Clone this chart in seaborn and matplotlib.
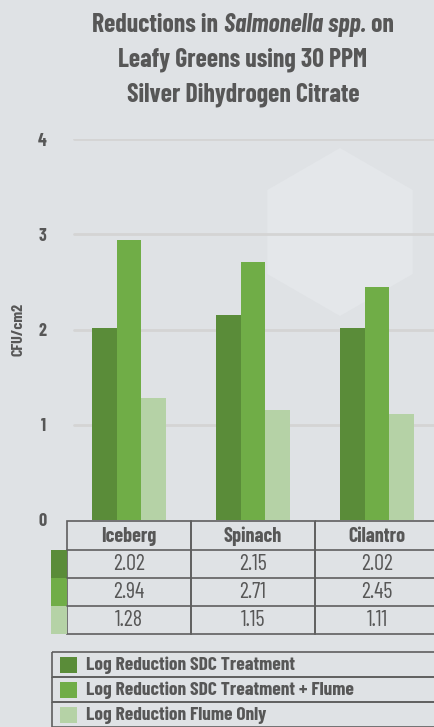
import pandas as pd
import seaborn as sns
import matplotlib.pyplot as plt
from matplotlib.patches import Rectangle, RegularPolygon

greens = ["Iceberg", "Spinach", "Cilantro"]
series = ["Log Reduction SDC Treatment",
          "Log Reduction SDC Treatment + Flume",
          "Log Reduction Flume Only"]
sdc = [2.02, 2.15, 2.02]
sdc_flume = [2.94, 2.71, 2.45]
flume_only = [1.28, 1.15, 1.11]
yticks = [0, 1, 2, 3, 4]

colors = ["#5a8c39", "#70ad47", "#b5d2a6"]
bg = "#dfe2e5"
txt = "#575757"
W, H = 434, 727

sns.set_theme(style="white")
plt.rcParams["font.family"] = ["Barlow Condensed", "DejaVu Sans"]

rows = []
for s, vals in zip(series, [sdc, sdc_flume, flume_only]):
    for g, v in zip(greens, vals):
        rows.append({"green": g, "series": s, "value": v})
df = pd.DataFrame(rows)

fig = plt.figure(figsize=(W / 100, H / 100), dpi=100, facecolor=bg)

# pixel overlay for background decoration, table and legend
over = fig.add_axes([0, 0, 1, 1], zorder=0)
over.set_xlim(0, W)
over.set_ylim(H, 0)
over.axis("off")
over.add_patch(RegularPolygon((340, 232), 6, radius=84, orientation=0,
                              facecolor="#e4e7ea", edgecolor="none"))

# main bar axes: y=0 at 520px, y=4 at 139px, categories 124px wide from x=67
left, col_w = 67, 124
ax = fig.add_axes([left / W, (H - 520) / H, 3 * col_w / W, (520 - 139) / H], zorder=1)
ax.patch.set_alpha(0)
sns.barplot(data=df, x="green", y="value", hue="series", palette=colors,
            width=0.6, gap=0, ax=ax, legend=False, saturation=1, linewidth=0)
ax.set_xlim(-0.5, 2.5)
ax.set_ylim(0, 4)
ax.set_yticks(yticks)
ax.set_yticklabels([str(t) for t in yticks], fontsize=13, fontweight="bold", color=txt)
ax.tick_params(axis="y", length=0, pad=15)
ax.set_xticks([])
ax.set_xlabel("")
ax.set_ylabel("CFU/cm2", fontsize=11.5, fontweight="bold", color=txt)
ax.yaxis.set_label_coords((25 - left) / (3 * col_w), 0.5)
for sp in ax.spines.values():
    sp.set_visible(False)
for t in yticks[1:]:
    ax.axhline(t, xmin=0.02, xmax=1, color="#d4d4d4", lw=2, zorder=0)

# title with italic part
renderer = fig.canvas.get_renderer()
tkw = dict(fontsize=18.5, fontweight="bold", color=txt, va="center")
parts = [("Reductions in ", "normal"), ("Salmonella spp.", "italic"), (" on", "normal")]
widths = []
objs = []
for s, style in parts:
    t = over.text(0, 25, s, style=style, **tkw)
    widths.append(t.get_window_extent(renderer).width)
    objs.append(t)
x = 243 - sum(widths) / 2
for t, w in zip(objs, widths):
    t.set_x(x)
    x += w
over.text(243, 60, "Leafy Greens using 30 PPM", ha="center", **tkw)
over.text(243, 95, "Silver Dihydrogen Citrate", ha="center", **tkw)

# data table
edge = "#5f5f5f"
row_tops = [521, 550, 578, 606, 634]
for i, g in enumerate(greens):
    x0 = left + i * col_w
    over.add_patch(Rectangle((x0, row_tops[0]), col_w, row_tops[-1] - row_tops[0],
                             facecolor="none", edgecolor=edge, lw=1.2))
    over.text(x0 + col_w / 2, (row_tops[0] + row_tops[1]) / 2 + 1, g, ha="center",
              va="center", fontsize=14.5, fontweight="bold", color=txt)
    for r, vals in enumerate([sdc, sdc_flume, flume_only]):
        y0, y1 = row_tops[r + 1], row_tops[r + 2]
        over.plot([x0, x0 + col_w], [y0, y0], color=edge, lw=1.2)
        over.text(x0 + col_w / 2, (y0 + y1) / 2 + 1, f"{vals[i]:.2f}", ha="center",
                  va="center", fontsize=16, fontweight="normal", color=txt)
for r, c in enumerate(colors):
    over.add_patch(Rectangle((51, row_tops[r + 1]), 16, row_tops[r + 2] - row_tops[r + 1],
                             facecolor=c, edgecolor="none"))

# legend box
leg_tops = [652, 677, 702, 727]
for r, (s, c) in enumerate(zip(series, colors)):
    y0 = leg_tops[r]
    over.add_patch(Rectangle((51.5, y0), W, 25, facecolor="none", edgecolor=edge, lw=1.2))
    over.add_patch(Rectangle((60, y0 + 5), 17, 16, facecolor=c, edgecolor="none"))
    over.text(86, y0 + 13, s, va="center", fontsize=14, fontweight="bold", color=txt)

fig.savefig("out.png", dpi=100, facecolor=bg)
